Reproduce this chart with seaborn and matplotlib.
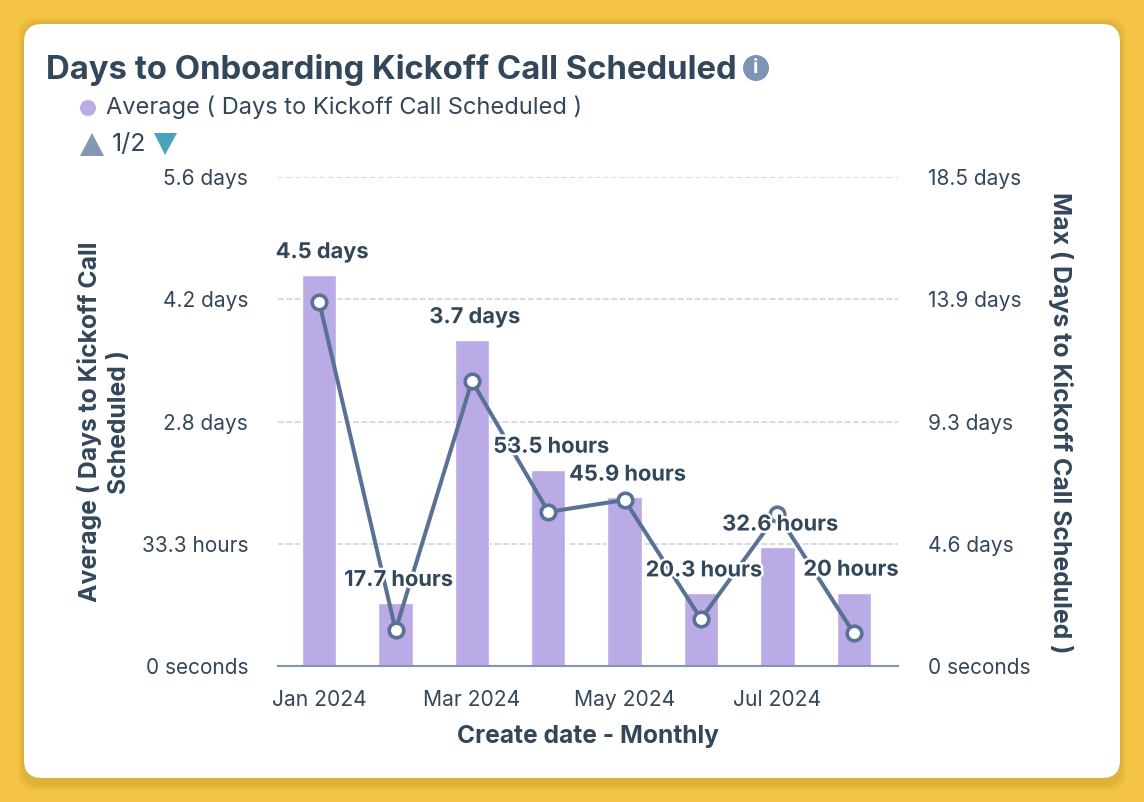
import numpy as np
import pandas as pd
import matplotlib
matplotlib.use("Agg")
import matplotlib.pyplot as plt
from matplotlib.patches import FancyBboxPatch, Circle, Polygon
import matplotlib.patheffects as pe
import seaborn as sns

months = ["Jan 2024", "Feb 2024", "Mar 2024", "Apr 2024", "May 2024", "Jun 2024", "Jul 2024", "Aug 2024"]
avg_hours = [106.5, 17.2, 88.8, 53.5, 45.9, 19.8, 32.3, 20]
bar_labels = ["4.5 days", "17.7 hours", "3.7 days", "53.5 hours", "45.9 hours", "20.3 hours", "32.6 hours", "20 hours"]
max_days = [13.77, 1.36, 10.78, 5.83, 6.28, 1.78, 5.75, 1.25]
left_ticks = ["0 seconds", "33.3 hours", "2.8 days", "4.2 days", "5.6 days"]
right_ticks = ["0 seconds", "4.6 days", "9.3 days", "13.9 days", "18.5 days"]

TEXT = "#33475B"
BAR = "#BAAAE5"
LINE = "#5A7196"
AXIS = "#7F95B5"
GRID = "#CFD3E6"
W, H = 1144, 802

sns.set_theme(style="white")
plt.rcParams["font.family"] = ["Inter", "DejaVu Sans"]
plt.rcParams["text.color"] = TEXT

df = pd.DataFrame({"month": months, "avg": avg_hours, "max": max_days})

fig = plt.figure(figsize=(W / 100, H / 100), dpi=100, facecolor="#F5C445")

# background card, drawn in pixel coordinates
bg = fig.add_axes([0, 0, 1, 1], zorder=0)
bg.set_xlim(0, W)
bg.set_ylim(H, 0)
bg.axis("off")
for grow, alpha in [(6, 0.05), (4, 0.07), (2, 0.09)]:
    bg.add_patch(FancyBboxPatch((42 - grow, 42 - grow), 1060 + 2 * grow, 724 + 2 * grow,
                                boxstyle="round,pad=18", fc="#8A6A10", ec="none", alpha=alpha))
bg.add_patch(FancyBboxPatch((42, 42), 1060, 718, boxstyle="round,pad=18", fc="white", ec="none"))

bg.text(46, 70, "Days to Onboarding Kickoff Call Scheduled", fontsize=23.7, fontweight="bold", va="center", ha="left")
bg.add_patch(Circle((756, 68), 13, fc=AXIS, ec="none"))
bg.text(756, 68, "i", color="white", fontsize=14, fontweight="bold", ha="center", va="center")
bg.add_patch(Circle((88, 108), 8, fc=BAR, ec="none"))
bg.text(106, 107, "Average ( Days to Kickoff Call Scheduled )", fontsize=17, va="center", ha="left")
bg.add_patch(Polygon([[80, 156], [104, 156], [92, 133]], fc="#8498B6", ec="none"))
bg.text(129, 145, "1/2", fontsize=18, va="center", ha="center")
bg.add_patch(Polygon([[154, 133], [177, 133], [165, 155]], fc="#4AA3BA", ec="none"))

# plot area 278..898 x 177..666 px
ax = fig.add_axes([278 / W, 1 - 666 / H, 620 / W, 489 / H], zorder=1)
ax.patch.set_alpha(0)
sns.barplot(data=df, x="month", y="avg", color=BAR, saturation=1, width=0.45, ax=ax, zorder=2)
ax.set_xlim(-0.54, 7.58)
ax.set_ylim(0, 133.2)
ax.set_yticks(np.linspace(0, 133.2, 5), left_ticks)
ax.set_xticks(range(0, len(months), 2), months[::2])
ax.set_xlabel("")
ax.set_ylabel("")
ax.tick_params(axis="y", length=0, pad=21.5, labelsize=15, labelcolor=TEXT)
ax.tick_params(axis="x", length=0, pad=17, labelsize=15.2, labelcolor=TEXT)
ax.grid(axis="y", color=GRID, linestyle=(0, (3.5, 1.5)), linewidth=1.2, zorder=0)
ax.set_axisbelow(True)
sns.despine(ax=ax, left=True, top=True, right=True)
ax.spines["bottom"].set_color(AXIS)
ax.spines["bottom"].set_linewidth(1.5)

ax2 = ax.twinx()
ax2.patch.set_alpha(0)
sns.lineplot(x=np.arange(len(months)), y=df["max"], color=LINE, linewidth=2.9, marker="o", markersize=10.5,
             markerfacecolor="white", markeredgecolor=LINE, markeredgewidth=2.6, ax=ax2, zorder=3)
ax2.set_ylim(0, 18.5)
ax2.set_yticks(np.linspace(0, 18.5, 5), right_ticks)
ax2.set_ylabel("")
ax2.tick_params(axis="y", length=0, pad=21.5, labelsize=15, labelcolor=TEXT)
ax2.grid(False)
sns.despine(ax=ax2, left=True, top=True, right=True, bottom=True)

# value labels sit above the bars, halo cuts the line
for i, (val, lab) in enumerate(zip(avg_hours, bar_labels)):
    ax2.annotate(lab, xy=(i, val), xycoords=ax.transData, xytext=(2 if i < 7 else -2, 16.5), textcoords="offset points",
                 ha="center", va="center", fontsize=15.7, fontweight="bold", color=TEXT, zorder=5,
                 path_effects=[pe.withStroke(linewidth=3.5, foreground="white")])

bg.text(588, 737, "Create date - Monthly", fontsize=17.7, fontweight="bold", ha="center", va="center")
bg.text(104, 422, "Average ( Days to Kickoff Call\nScheduled )", fontsize=17.8, fontweight="bold", rotation=90,
        ha="center", va="center", linespacing=1.35)
bg.text(1061, 423, "Max ( Days to Kickoff Call Scheduled )", fontsize=17.9, fontweight="bold", rotation=270,
        ha="center", va="center")

fig.savefig("out.png", dpi=100)
